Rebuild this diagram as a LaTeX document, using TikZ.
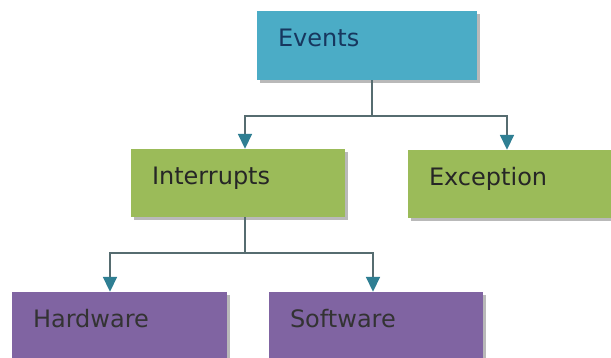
\documentclass[tikz,border=0pt]{standalone}
\usepackage{fontspec}
\setmainfont{DejaVu Sans}
\usetikzlibrary{positioning, arrows.meta, shadows}

\definecolor{evaqua}{HTML}{4BACC6}
\definecolor{evgreen}{HTML}{9BBB59}
\definecolor{evpurple}{HTML}{8064A2}
\definecolor{evnavy}{HTML}{17375E}
\definecolor{linegray}{HTML}{566C70}
\definecolor{tipteal}{HTML}{2F7F93}

\begin{document}
\begin{tikzpicture}[x=1pt,y=-1pt]
		\tikzstyle{box}=[draw=none, inner xsep=21pt, inner ysep=0pt, minimum height=68pt, text height=18pt, text depth=15pt, align=left, font=\fontsize{24}{28}\selectfont, drop shadow={shadow xshift=3pt, shadow yshift=-3pt, fill=black!50, opacity=0.55}]
		\tikzstyle{arr}=[draw=linegray, line width=1.8pt, -{Triangle[width=14pt,length=15pt,color=tipteal]}]
		\useasboundingbox[fill=white] (0,0) rectangle (611,358);
		% boxes
		\node[box, fill=evaqua, text=evnavy, text width=178pt, minimum height=69pt] (events) at (367,45.5) {Events};
		\node[box, fill=evgreen, text=black!85, text width=172pt] (interrupts) at (238,183) {Interrupts};
		\node[box, fill=evgreen, text=black!85, text width=164pt] (exception) at (511,184) {Exception};
		\node[box, fill=evpurple, text=black!80, text width=173pt] (hardware) at (119.5,326) {Hardware};
		\node[box, fill=evpurple, text=black!80, text width=172pt] (software) at (376,326) {Software};
		% connectors
		\draw[arr] ([xshift=5pt]events.south) -- ++(0,36) -| ([xshift=7pt]interrupts.north);
		\draw[arr] ([xshift=5pt]events.south) -- ++(0,36) -| ([xshift=-4pt]exception.north);
		\draw[arr] ([xshift=7pt]interrupts.south) -- ++(0,36) -| ([xshift=-9.5pt]hardware.north);
		\draw[arr] ([xshift=7pt]interrupts.south) -- ++(0,36) -| ([xshift=-3pt]software.north);
\end{tikzpicture}
\end{document}
